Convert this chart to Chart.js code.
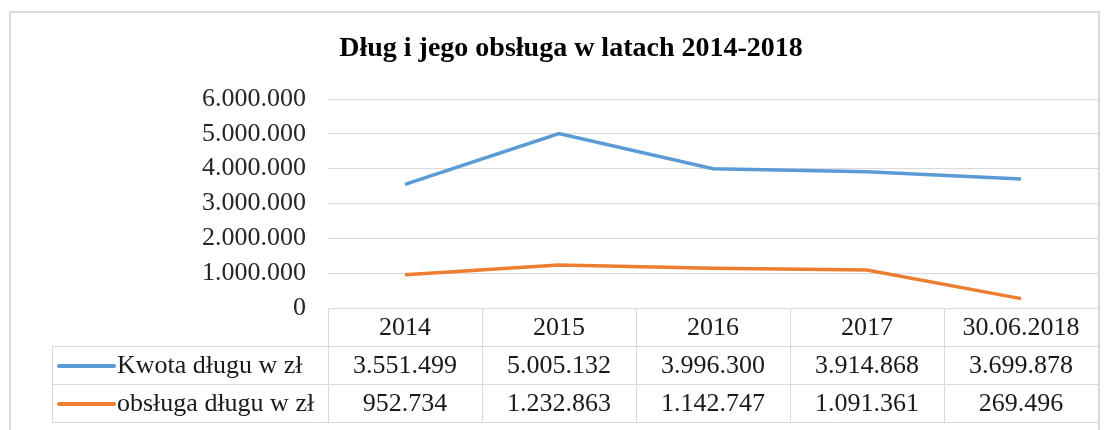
<!DOCTYPE html>
<html>
<head>
<meta charset="utf-8">
<script src="https://cdn.jsdelivr.net/npm/chart.js@4"></script>
<style>
  body { margin: 0; background: #fff; }
  #wrap { width: 1110px; height: 430px; }
</style>
</head>
<body>
<div id="wrap"><canvas id="debtChart" width="1110" height="430"></canvas></div>
<script>
// dane z wykresu
const years = ['2014', '2015', '2016', '2017', '30.06.2018'];
const kwotaDlugu = [3551499, 5005132, 3996300, 3914868, 3699878];
const obslugaDlugu = [952734, 1232863, 1142747, 1091361, 269496];
const seriesNames = ['Kwota długu w zł', 'obsługa długu w zł'];
const seriesColors = ['#5b9bd5', '#ed7d31'];
const chartTitle = 'Dług i jego obsługa w latach 2014-2018';

const serif = '"Liberation Serif", "Times New Roman", serif';
const gridColor = '#d9d9d9';

function fmt(v) {
    return String(Math.round(v)).replace(/\B(?=(\d{3})+(?!\d))/g, '.');
}

// ramka, tytul i tabela danych pod wykresem
const dataTable = {
    id: 'dataTable',
    beforeDraw: function (chart) {
        let ctx = chart.ctx;
        ctx.save();
        ctx.strokeStyle = gridColor;
        ctx.lineWidth = 2;
        ctx.strokeRect(10, 12, 1089, 430);
        ctx.restore();
    },
    afterDraw: function (chart) {
        let ctx = chart.ctx;
        let area = chart.chartArea;
        let x = chart.scales.x;
        let rowH = 38;
        let top = area.bottom;
        let labelLeft = 52;
        let colW = (area.right - area.left) / years.length;
        let allSeries = [kwotaDlugu, obslugaDlugu];

        ctx.save();
        // tytul
        ctx.fillStyle = '#000';
        ctx.font = 'bold 28px ' + serif;
        ctx.textAlign = 'center';
        ctx.textBaseline = 'middle';
        ctx.fillText(chartTitle, 571, 49);

        // linie tabeli
        ctx.strokeStyle = gridColor;
        ctx.lineWidth = 1;
        ctx.beginPath();
        ctx.moveTo(area.left, top + 0.5);
        ctx.lineTo(area.right, top + 0.5);
        for (let r = 1; r <= 3; r++) {
            ctx.moveTo(labelLeft, top + r * rowH + 0.5);
            ctx.lineTo(area.right, top + r * rowH + 0.5);
        }
        for (let c = 0; c <= years.length; c++) {
            let px = Math.round(area.left + c * colW) + 0.5;
            ctx.moveTo(px, top);
            ctx.lineTo(px, top + 3 * rowH);
        }
        ctx.moveTo(labelLeft + 0.5, top + rowH);
        ctx.lineTo(labelLeft + 0.5, top + 3 * rowH);
        ctx.stroke();

        // naglowki
        ctx.font = '26px ' + serif;
        ctx.fillStyle = '#1a1a1a';
        ctx.textAlign = 'center';
        years.forEach(function (y, i) {
            ctx.fillText(y, x.getPixelForValue(i), top + rowH / 2 + 1);
        });

        // wiersze serii
        allSeries.forEach(function (vals, s) {
            let cy = top + (s + 1) * rowH + rowH / 2 + 1;
            ctx.strokeStyle = seriesColors[s];
            ctx.lineWidth = 4;
            ctx.lineCap = 'round';
            ctx.beginPath();
            ctx.moveTo(59, cy);
            ctx.lineTo(114, cy);
            ctx.stroke();
            ctx.textAlign = 'left';
            ctx.fillText(seriesNames[s], 117, cy);
            ctx.textAlign = 'center';
            vals.forEach(function (v, i) {
                ctx.fillText(fmt(v), x.getPixelForValue(i), cy);
            });
        });
        ctx.restore();
    }
};

let ctx = document.getElementById('debtChart').getContext('2d');
new Chart(ctx, {
    type: 'line',
    data: {
        labels: years,
        datasets: [{
            label: seriesNames[0],
            data: kwotaDlugu,
            borderColor: seriesColors[0],
            borderWidth: 3.5,
            pointRadius: 0,
            tension: 0
        }, {
            label: seriesNames[1],
            data: obslugaDlugu,
            borderColor: seriesColors[1],
            borderWidth: 3.5,
            pointRadius: 0,
            tension: 0
        }]
    },
    options: {
        responsive: false,
        animation: false,
        layout: {
            padding: { top: 99, bottom: 122, right: 12, left: 0 }
        },
        plugins: {
            legend: { display: false },
            title: { display: false },
            tooltip: { enabled: false }
        },
        scales: {
            x: {
                display: false,
                offset: true
            },
            y: {
                min: 0,
                max: 6000000,
                afterFit: function (scale) { scale.width = 328; },
                border: { display: false },
                grid: { color: gridColor, lineWidth: 1, drawTicks: false },
                ticks: {
                    stepSize: 1000000,
                    padding: 22,
                    color: '#262626',
                    font: { family: serif, size: 26 },
                    callback: function (v) { return fmt(v); }
                }
            }
        }
    },
    plugins: [dataTable]
});
</script>
</body>
</html>
